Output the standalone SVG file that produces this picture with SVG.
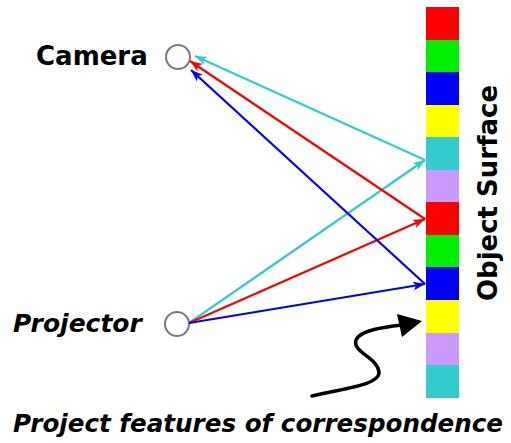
<svg xmlns="http://www.w3.org/2000/svg" width="511" height="443" viewBox="0 0 511 443">
<style>
.lbl{font-family:"DejaVu Sans",Verdana,sans-serif;font-weight:bold;fill:#000}
.it{font-style:italic}
.node{fill:#fff;stroke:#7a7a7a;stroke-width:2}
.ln{stroke-width:2.2;fill:none}
</style>
<defs>
<marker id="mc" viewBox="0 0 12 9" refX="12" refY="4.5" markerWidth="12" markerHeight="9" markerUnits="userSpaceOnUse" orient="auto"><path d="M0,0 L12,4.5 L0,9 L3,4.5 z" fill="#33CCCC"/></marker>
<marker id="mr" viewBox="0 0 12 9" refX="12" refY="4.5" markerWidth="12" markerHeight="9" markerUnits="userSpaceOnUse" orient="auto"><path d="M0,0 L12,4.5 L0,9 L3,4.5 z" fill="#FF0000"/></marker>
<marker id="mb" viewBox="0 0 12 9" refX="12" refY="4.5" markerWidth="12" markerHeight="9" markerUnits="userSpaceOnUse" orient="auto"><path d="M0,0 L12,4.5 L0,9 L3,4.5 z" fill="#0000FF"/></marker>
</defs>
<rect width="511" height="443" fill="#fff"/>
<g id="surface">
<rect x="426" y="7" width="33" height="33" fill="#FF0000"/>
<rect x="426" y="40" width="33" height="32" fill="#00EE00"/>
<rect x="426" y="72" width="33" height="33" fill="#0000FF"/>
<rect x="426" y="105" width="33" height="32" fill="#FFFF00"/>
<rect x="426" y="137" width="33" height="33" fill="#33CCCC"/>
<rect x="426" y="170" width="33" height="32" fill="#CC99FF"/>
<rect x="426" y="202" width="33" height="33" fill="#FF0000"/>
<rect x="426" y="235" width="33" height="32" fill="#00EE00"/>
<rect x="426" y="267" width="33" height="33" fill="#0000FF"/>
<rect x="426" y="300" width="33" height="33" fill="#FFFF00"/>
<rect x="426" y="333" width="33" height="32" fill="#CC99FF"/>
<rect x="426" y="365" width="33" height="33" fill="#33CCCC"/>
<text class="lbl" font-size="26" text-anchor="middle" transform="translate(497,193) rotate(-90)">Object Surface</text>
</g>
<g id="camera">
<circle class="node" cx="178" cy="57" r="12"/>
<text class="lbl" x="36" y="65" font-size="26">Camera</text>
</g>
<g id="projector">
<circle class="node" cx="177" cy="324" r="12"/>
<text class="lbl it" x="13" y="332" font-size="25">Projector</text>
</g>
<g id="connectors">
<line class="ln" x1="189" y1="323" x2="425" y2="160" stroke="#33CCCC" marker-end="url(#mc)"/>
<line class="ln" x1="189" y1="323" x2="425" y2="219" stroke="#FF0000" marker-end="url(#mr)"/>
<line class="ln" x1="189" y1="323" x2="425" y2="284" stroke="#0000FF" marker-end="url(#mb)"/>
<line class="ln" x1="425" y1="160" x2="195" y2="56" stroke="#33CCCC" marker-end="url(#mc)"/>
<line class="ln" x1="425" y1="219" x2="190" y2="61" stroke="#FF0000" marker-end="url(#mr)"/>
<line class="ln" x1="425" y1="284" x2="191" y2="70" stroke="#0000FF" marker-end="url(#mb)"/>
</g>
<g id="annotation">
<path d="M312,396 C345,388 380,385 379,372 C378,358 352,352 356,340 C360,330 385,327 402,325" fill="none" stroke="#000" stroke-width="3.5" stroke-linecap="round"/>
<polygon points="422,321 397,314 402,337" fill="#000"/>
<text class="lbl it" x="13" y="432" font-size="25" textLength="490" lengthAdjust="spacingAndGlyphs">Project features of correspondence</text>
</g>
</svg>
